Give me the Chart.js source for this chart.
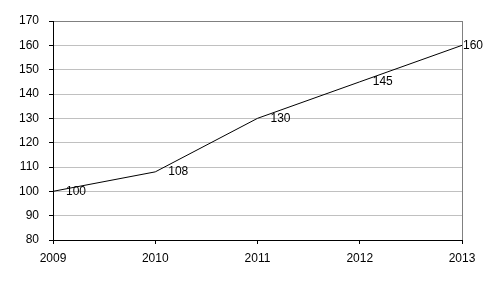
<!DOCTYPE html>
<html>
<head>
<meta charset="utf-8">
<script src="https://cdn.jsdelivr.net/npm/chart.js@4/dist/chart.umd.min.js"></script>
<style>
  html, body { margin: 0; padding: 0; background: #fff; }
  #wrap { width: 488px; height: 281px; }
</style>
</head>
<body>
<div id="wrap"><canvas id="chart"></canvas></div>
<script>
// values
const years = [2009, 2010, 2011, 2012, 2013];
const values = [100, 108, 130, 145, 160];
const yMin = 80, yMax = 170, yStep = 10;

const FONT = { family: '"Liberation Sans", Arial, sans-serif', size: 12 };

// draws the value next to each point, right of it, like the original
const valueLabels = {
  id: 'valueLabels',
  afterDatasetsDraw(chart) {
    const ctx = chart.ctx;
    const meta = chart.getDatasetMeta(0);
    ctx.save();
    ctx.font = '12px ' + FONT.family;
    ctx.fillStyle = '#000';
    ctx.textBaseline = 'middle';
    ctx.textAlign = 'left';
    meta.data.forEach((pt, i) => {
      const txt = String(values[i]);
      const w = ctx.measureText(txt).width;
      let x = pt.x + 13;
      if (x + w > chart.width - 6) x = pt.x + 1;
      ctx.fillText(txt, x, pt.y);
    });
    ctx.restore();
  }
};

const ctx = document.getElementById('chart').getContext('2d');
new Chart(ctx, {
  type: 'line',
  data: {
    datasets: [{
      data: years.map((y, i) => ({ x: y, y: values[i] })),
      borderColor: '#000',
      borderWidth: 1,
      pointRadius: 0,
      fill: false,
      tension: 0
    }]
  },
  options: {
    responsive: true,
    maintainAspectRatio: false,
    animation: false,
    layout: { padding: { top: 21, right: 26, left: 0, bottom: 0 } },
    plugins: {
      legend: { display: false },
      tooltip: { enabled: false }
    },
    scales: {
      x: {
        type: 'linear',
        min: years[0],
        max: years[years.length - 1],
        afterFit(scale) { scale.height = 41; },
        ticks: {
          stepSize: 1,
          color: '#000',
          font: FONT,
          padding: 7,
          maxRotation: 0,
          callback: v => String(v)
        },
        grid: {
          color: c => c.tick && c.tick.value === years[years.length - 1] ? '#808080' : 'rgba(0,0,0,0)',
          tickColor: '#000',
          tickLength: 4,
          lineWidth: 1
        },
        border: { color: '#000', width: 1 }
      },
      y: {
        min: yMin,
        max: yMax,
        afterFit(scale) { scale.width = 53; },
        ticks: {
          stepSize: yStep,
          color: '#000',
          font: FONT,
          padding: 10
        },
        grid: {
          color: c => {
            if (!c.tick) return '#c0c0c0';
            if (c.tick.value === yMax) return '#808080';
            if (c.tick.value === yMin) return 'rgba(0,0,0,0)';
            return '#c0c0c0';
          },
          tickColor: '#000',
          tickLength: 4,
          lineWidth: 1
        },
        border: { color: '#000', width: 1 }
      }
    }
  },
  plugins: [valueLabels]
});
</script>
</body>
</html>
